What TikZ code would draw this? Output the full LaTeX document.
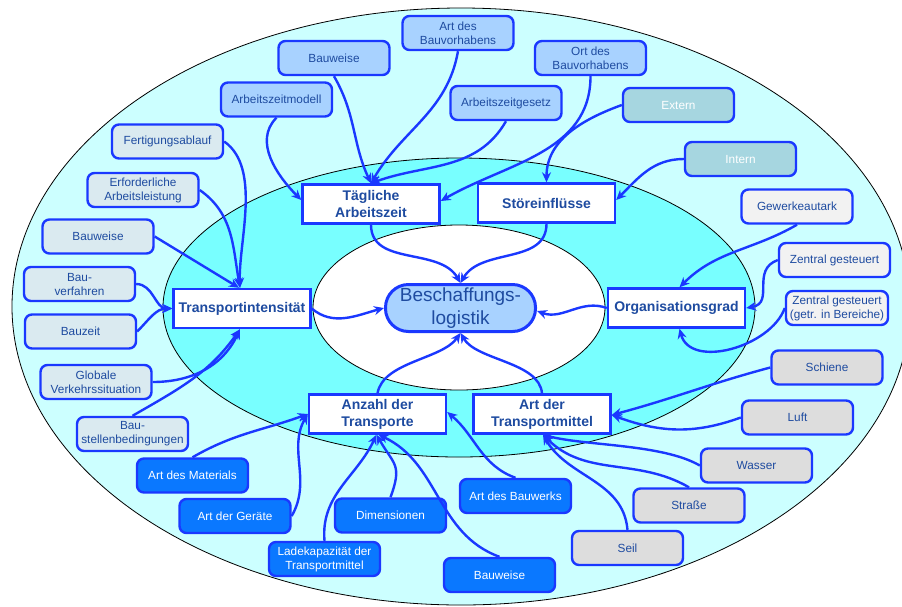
\documentclass[tikz,border=0pt]{standalone}
\usepackage{fontspec}
\setmainfont{Liberation Sans}
\usetikzlibrary{arrows.meta}
\definecolor{aussen}{RGB}{204,255,255}
\definecolor{mitte}{RGB}{120,255,255}
\definecolor{linie}{RGB}{26,56,255}
\definecolor{schrift}{RGB}{30,75,160}
\definecolor{hellblau}{RGB}{168,210,255}
\definecolor{graublau}{RGB}{218,234,240}
\definecolor{petrol}{RGB}{166,214,224}
\definecolor{hellgrau}{RGB}{242,242,242}
\definecolor{mittelgrau}{RGB}{221,221,221}
\definecolor{kraeftig}{RGB}{10,120,255}
\tikzset{
    kasten/.style={draw=linie,line width=2.4pt,rounded corners=7pt,minimum width=111pt,minimum height=34pt,inner sep=1pt,align=center,text=schrift,font=\fontsize{11.8}{14}\selectfont},
    zeitkasten/.style={kasten,fill=hellblau},
    stoerkasten/.style={kasten,fill=petrol,text=white},
    orgkasten/.style={kasten,fill=hellgrau},
    mittelkasten/.style={kasten,fill=mittelgrau},
    intkasten/.style={kasten,fill=graublau},
    anzkasten/.style={kasten,fill=kraeftig,text=white},
    hauptkasten/.style={draw=linie,line width=2.4pt,fill=white,minimum width=137pt,minimum height=39pt,inner sep=1pt,align=center,text=schrift,font=\fontsize{14}{17}\selectfont\bfseries},
    ziel/.style={draw=linie,line width=3pt,fill=hellblau,rounded corners=23pt,minimum width=150pt,minimum height=47pt,inner sep=1pt,align=center,text=schrift,font=\fontsize{19}{23}\selectfont},
    pfeil/.style={->,line width=2.4pt,draw=linie}
}
\begin{document}
\begin{tikzpicture}[x=1pt,y=1pt,>={Stealth[length=10pt,width=9pt]}]
    \useasboundingbox (0,0) rectangle (902,-606);
    \clip (0,0) rectangle (902,-606);
    \draw[fill=aussen,line width=0.8pt] (461,-306.5) ellipse (449 and 298.5);
    \draw[fill=mitte,line width=0.8pt] (459,-307.5) ellipse (296 and 149.5);
    \draw[fill=white,line width=0.8pt] (459,-307.5) ellipse (146 and 82.5);

    \foreach \n/\x/\y/\t in {bauwO/334/58/Bauweise,azm/276.5/99.5/Arbeitszeitmodell,artbv/458/33/{Art des\\Bauvorhabens},ortbv/590.5/58/{Ort des\\Bauvorhabens},azg/506/103/Arbeitszeitgesetz}
        \node[zeitkasten] (\n) at (\x,-\y) {\t};
    \foreach \n/\x/\y/\t in {ext/678.5/105/Extern,int/740.5/159/Intern}
        \node[stoerkasten] (\n) at (\x,-\y) {\t};
    \foreach \n/\x/\y/\t in {gew/797/206.5/Gewerkeautark,zenA/834.5/260/Zentral gesteuert}
        \node[orgkasten] (\n) at (\x,-\y) {\t};
    \node[orgkasten,minimum width=102pt] (zenB) at (837,-308) {Zentral gesteuert\\(getr. in Bereiche)};
    \foreach \n/\x/\y/\t in {schiene/827/367.5/Schiene,luft/797.5/417.5/Luft,wasser/756.5/465.5/Wasser,strasse/689/505.5/Straße,seil/627.5/548/Seil}
        \node[mittelkasten] (\n) at (\x,-\y) {\t};
    \foreach \n/\x/\y/\t in {fert/167.5/141.5/Fertigungsablauf,erf/143/190/{Erforderliche\\Arbeitsleistung},bauwL/98/236.5/Bauweise,bverf/79.5/284/{Bau-\\verfahren},bzeit/80.5/331.5/Bauzeit,glob/96/382/{Globale\\Verkehrssituation},bst/132.5/434/{Bau-\\stellenbedingungen}}
        \node[intkasten] (\n) at (\x,-\y) {\t};
    \foreach \n/\x/\y/\t in {mat/192.5/475.5/Art des Materials,geraete/235/516/Art der Geräte,dim/390.5/515.5/Dimensionen,lade/324.5/559/{Ladekapazität der\\Transportmittel},artbw/515.5/496/Art des Bauwerks,bauwU/499.5/575/Bauweise}
        \node[anzkasten] (\n) at (\x,-\y) {\t};

    \node[hauptkasten] (tag) at (371,-204) {Tägliche\\Arbeitszeit};
    \node[hauptkasten] (stoer) at (546.5,-203) {Störeinflüsse};
    \node[hauptkasten] (trans) at (242,-308.5) {Transportintensität};
    \node[hauptkasten] (org) at (676.5,-308) {Organisationsgrad};
    \node[hauptkasten] (anz) at (377.5,-414) {Anzahl der\\Transporte};
    \node[hauptkasten] (artt) at (542,-414) {Art der\\Transportmittel};
    \node[ziel] (log) at (460.5,-308) {Beschaffungs-\\logistik};

    \draw[pfeil] (bauwO.south) to[out=-60,in=115] (tag.north);
    \draw[pfeil] (artbv.south) to[out=-100,in=60] (tag.north);
    \draw[pfeil] (azg.south) to[out=-120,in=20] (tag.north);
    \draw[pfeil] (azm.south) to[out=-135,in=135] ([yshift=4pt]tag.west);
    \draw[pfeil] (ortbv.south) to[out=-90,in=30] ([yshift=3pt]tag.east);
    \draw[pfeil] (ext.west) to[out=200,in=90] (stoer.north);
    \draw[pfeil] (int.west) to[out=180,in=45] ([yshift=3pt]stoer.east);
    \draw[pfeil] (tag.south) to[out=-90,in=120] (log.north);
    \draw[pfeil] (stoer.south) to[out=-90,in=60] (log.north);

    \draw[pfeil] (gew.south) to[out=-150,in=45] ([xshift=3pt]org.north);
    \draw[pfeil] (zenA.west) to[out=200,in=10,looseness=1.3] (org.east);
    \draw[pfeil] (zenB.west) to[out=-110,in=-75] ([xshift=3pt]org.south);
    \draw[pfeil] (org.west) to[out=160,in=-20] ([yshift=-3pt]log.east);
    \draw[pfeil] (trans.east) to[out=-40,in=195] (log.west);
    \draw[pfeil] (anz.north) to[out=80,in=-125,looseness=0.8] (log.south);
    \draw[pfeil] (artt.north) to[out=95,in=-60,looseness=0.8] (log.south);

    \draw[pfeil] (fert.east) to[out=-35,in=92,looseness=0.8] ([xshift=-2pt]trans.north);
    \draw[pfeil] (erf.east) to[out=-35,in=100] ([xshift=-2pt]trans.north);
    \draw[pfeil] (bauwL.east) -- ([xshift=-3pt]trans.north);
    \draw[pfeil] (bverf.east) to[out=0,in=180] (trans.west);
    \draw[pfeil] (bzeit.east) to[out=45,in=180] (trans.west);
    \draw[pfeil] (glob.east) to[out=0,in=-115] ([xshift=-2pt]trans.south);
    \draw[pfeil] (bst.north) to[out=30,in=-125] ([xshift=-2pt]trans.south);

    \draw[pfeil] (mat.north) to[out=30,in=200] (anz.west);
    \draw[pfeil] (geraete.east) to[out=60,in=-120] (anz.west);
    \draw[pfeil] (lade.north) to[out=95,in=-115] ([xshift=-1pt]anz.south);
    \draw[pfeil] (dim.north) to[out=70,in=-60,looseness=1.4] ([xshift=-1pt]anz.south);
    \draw[pfeil] (bauwU.north) to[out=160,in=-25] ([xshift=1pt]anz.south);
    \draw[pfeil] (artbw.north) to[out=160,in=-40] ([yshift=2pt]anz.east);

    \draw[pfeil] (schiene.west) to[out=195,in=15] ([yshift=-1pt]artt.east);
    \draw[pfeil] (luft.west) to[out=200,in=-20] ([yshift=-1pt]artt.east);
    \draw[pfeil] (wasser.west) to[out=150,in=-15,looseness=0.7] ([xshift=1pt]artt.south);
    \draw[pfeil] (strasse.north) to[out=150,in=-45] ([xshift=1pt]artt.south);
    \draw[pfeil] (seil.north) to[out=95,in=-60] ([xshift=1pt]artt.south);
\end{tikzpicture}
\end{document}
